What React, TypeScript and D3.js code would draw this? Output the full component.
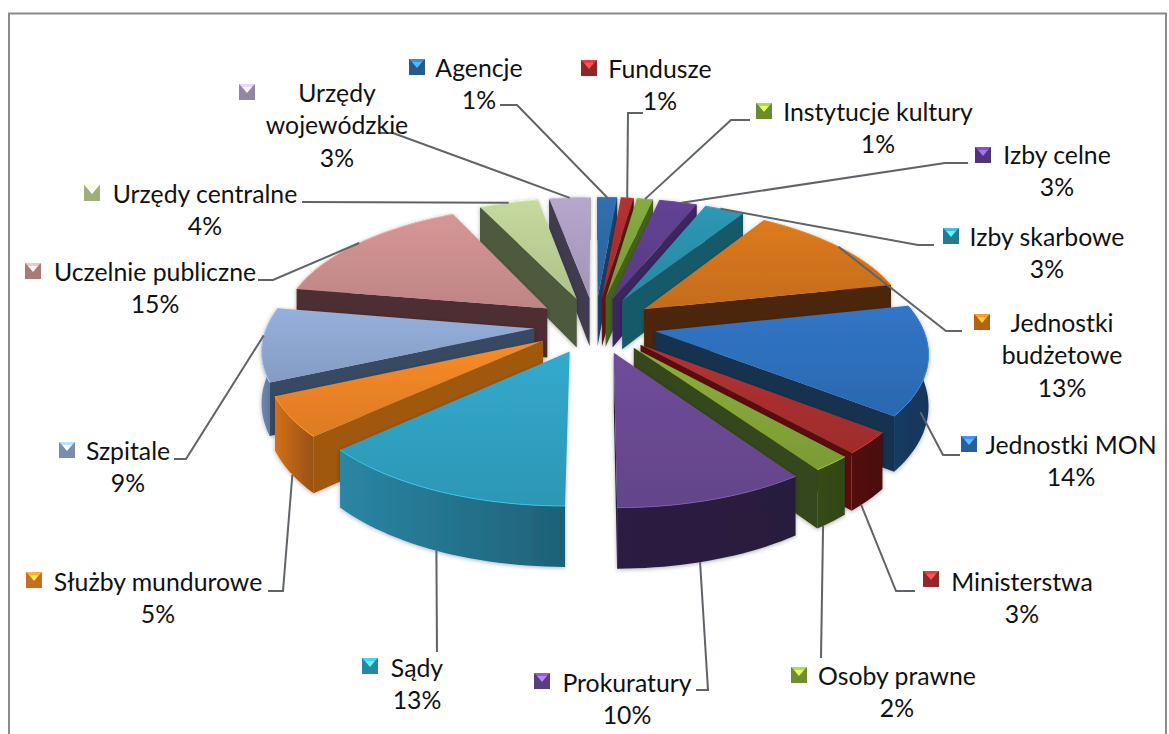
import React from "react";
import * as d3 from "d3";

const categories = ["Agencje","Fundusze","Instytucje kultury","Izby celne","Izby skarbowe","Jednostki budżetowe","Jednostki MON","Ministerstwa","Osoby prawne","Prokuratury","Sądy","Służby mundurowe","Szpitale","Uczelnie publiczne","Urzędy centralne","Urzędy wojewódzkie"];
const shareValues = [1.4,0.9,1.15,2.7,2.85,12.6,14.0,2.8,2.0,9.6,13.2,5.1,9.4,15.2,4.2,2.9];
const topColors = ["#2f6aa8","#ab2f30","#7fa63a","#5f3f8e","#2b92ad","#d4751c","#2f70bd","#ab3030","#85a838","#6b4a94","#30a3c4","#ee8526","#8fa9d3","#cd9090","#bdd196","#aea0c3"];
const radialColors = ["#1c4068","#5e1414","#44621c","#3a2560","#175a6b","#4c2807","#14304f","#5a0e0e","#35471a","#2d2045","#1a6078","#a05810","#374a64","#4d2e30","#4d5a3e","#3f3a50"];
const wallColors = ["#1c4068","#5e1414","#44621c","#3a2560","#175a6b","#4c2807","#163b62","#521010","#374d18","#2c1f42","#2a86a4","#d2701a","#6f8ab3","#7a5050","#6a7a50","#5a5070"];
const labelLines = [["Agencje"],["Fundusze"],["Instytucje kultury"],["Izby celne"],["Izby skarbowe"],["Jednostki","budżetowe"],["Jednostki MON"],["Ministerstwa"],["Osoby prawne"],["Prokuratury"],["Sądy"],["Służby mundurowe"],["Szpitale"],["Uczelnie publiczne"],["Urzędy centralne"],["Urzędy","wojewódzkie"]];
const labelX = [479,660,878,1057,1047,1062,1071,1022,897,627,417,158,128,155,205,337];
const labelY = [68,69,112,155,237,323,445,582,676,683,668,582,451,272,194,93];
const markerX = [417,589,764,983,951,982,969,931,799,542,370,34,67,33,92,247];
const markerY = [67,68,111,155,236,322,444,579,675,681,666,580,450,271,193,92];
const elbows: [number, number][][] = [
  [[500,105],[517,105]],[[643,113],[628,113]],[[750,120],[731,120]],[[968,163],[945,163]],
  [[934,245],[918,245]],[[962,331],[946,331]],[[960,455],[943,455]],[[915,591],[896,591]],
  [[821,658]],[[696,690],[708,690]],[[437,652]],[[268,591],[283,591]],
  [[174,459],[186,459]],[[258,280],[273,280]],[[302,202]],[[380,133],[393,133]],
];
const leaderFrac = [0.5,0.5,0.5,0.6,0.4,0.5,0.72,0.72,0.8,0.57,0.5,0.45,0.62,0.5,0.5,0.5];
const leaderDrop = [0,0,0,0,0,0,0.5,1,1,1,1,1,0,0,0,0];

const W = 1169, H = 734;
const cx = 595, cy = 325, kY = 0.46, D = 1800, explode = 61, R = 267, depth = 50;

const project = (X: number, Y: number, z: number): [number, number] => {
  const p = D / (D - Y);
  return [cx + X * p, cy + (Y * kY + z) * p];
};

const line = d3.line<[number, number]>();
const pieLayout = d3.pie<number>().sort(null).startAngle(0).endAngle(2 * Math.PI);

function Marker({ x, y, color }: { x: number; y: number; color: string }) {
  const s = 8;
  const c = d3.color(color)!;
  return (
    <g>
      <rect x={x - s} y={y - s} width={s * 2} height={s * 2} fill={c.darker(0.5).formatHex()} />
      <polygon points={`${x - s},${y - s} ${x + s},${y - s} ${x + s - 3},${y - s + 3} ${x - s + 3},${y - s + 3}`} fill={c.brighter(0.8).formatHex()} />
      <polygon points={`${x - s + 3},${y - s + 3} ${x + s - 3},${y - s + 3} ${x},${y + 1}`} fill={c.brighter(1.6).formatHex()} />
    </g>
  );
}

export default function App() {
  const arcs = pieLayout(shareValues);
  const total = d3.sum(shareValues);
  const slices = arcs.map((a, i) => {
    const mid = (a.startAngle + a.endAngle) / 2;
    const ax = explode * Math.sin(mid), ay = -explode * Math.cos(mid);
    const pt = (ang: number, r: number) => [ax + r * Math.sin(ang), ay - r * Math.cos(ang)];
    const steps = Math.max(2, Math.ceil((a.endAngle - a.startAngle) / 0.03));
    const rim = d3.range(steps + 1).map(j => pt(a.startAngle + (a.endAngle - a.startAngle) * j / steps, R));
    const at = (q: number[], z: number) => project(q[0], q[1], z);
    const topPts = [at([ax, ay], 0), ...rim.map(q => at(q, 0))];
    const wall = [...rim.map(q => at(q, 0)), ...rim.slice().reverse().map(q => at(q, depth))];
    const s0 = [at([ax, ay], 0), at(rim[0], 0), at(rim[0], depth), at([ax, ay], depth)];
    const s1 = [at([ax, ay], 0), at(rim[steps], 0), at(rim[steps], depth), at([ax, ay], depth)];
    const radials: [number, number][][] = [];
    if (Math.sin(a.startAngle) < 0) radials.push(s0 as [number, number][]);
    if (Math.sin(a.endAngle) > 0) radials.push(s1 as [number, number][]);
    const end = at(pt(a.startAngle + (a.endAngle - a.startAngle) * leaderFrac[i], R), depth * leaderDrop[i]);
    return { i, ay, topPts, wall, radials, end, rimTop: rim.map(q => at(q, 0)) };
  });
  const order = slices.slice().sort((a, b) => a.ay - b.ay);
  return (
    <svg width={W} height={H} style={{ position: "absolute", left: 0, top: 0, background: "#fff" }} fontFamily="Lato, sans-serif" fontSize={24.8}>
      <defs>
        <filter id="sh" x="-10%" y="-10%" width="120%" height="125%">
          <feDropShadow dx="0" dy="1" stdDeviation="2" floodColor="#000" floodOpacity="0.3" />
        </filter>
        {topColors.map((c, i) => (
          <linearGradient key={i} id={`top${i}`} x1="0" y1="0" x2="0" y2="1">
            <stop offset="0" stopColor={d3.color(c)!.brighter(0.12).formatHex()} />
            <stop offset="1" stopColor={d3.color(c)!.darker(0.22).formatHex()} />
          </linearGradient>
        ))}
        {wallColors.map((c, i) => (
          <linearGradient key={i} id={`wall${i}`} x1="0" y1="0" x2="1" y2="0">
            <stop offset="0" stopColor={c} />
            <stop offset="1" stopColor={i >= 10 ? d3.color(c)!.darker(0.9).formatHex() : d3.color(c)!.darker(0.25).formatHex()} />
          </linearGradient>
        ))}
      </defs>
      <rect x={9} y={13.5} width={1157} height={H + 40} fill="#fff" stroke="#8a8a8a" strokeWidth={2} />
      {order.map(s => (
        <g key={s.i} filter="url(#sh)">
          <path d={line(s.wall)! + "Z"} fill={`url(#wall${s.i})`} />
          {s.radials.map((f, j) => (
            <path key={j} d={line(f)! + "Z"} fill={radialColors[s.i]} />
          ))}
          <path d={line(s.topPts)! + "Z"} fill={`url(#top${s.i})`} />
          <path d={line(s.rimTop)!} fill="none" stroke={d3.color(topColors[s.i])!.brighter(0.5).formatHex()} strokeWidth={1} />
        </g>
      ))}
      {slices.map(s => (
        <polyline key={s.i} points={[...elbows[s.i], s.end].map(p => p.join(",")).join(" ")} fill="none" stroke="#5f6468" strokeWidth={2} />
      ))}
      {categories.map((_, i) => {
        const lines = labelLines[i];
        const pct = `${Math.round(shareValues[i] / total * 100)}%`;
        return (
          <g key={i}>
            <Marker x={markerX[i]} y={markerY[i]} color={topColors[i]} />
            <text textAnchor="middle" fill="#111">
              {[...lines, pct].map((t, j) => (
                <tspan key={j} x={labelX[i]} y={labelY[i] + j * 32.8} dy="0.35em">{t}</tspan>
              ))}
            </text>
          </g>
        );
      })}
    </svg>
  );
}
